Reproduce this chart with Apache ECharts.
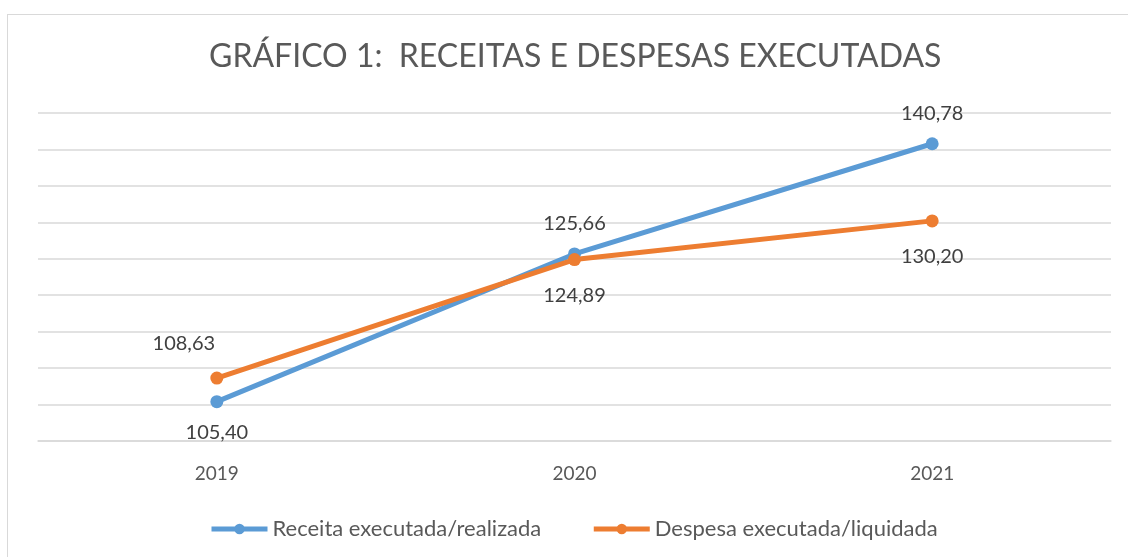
<!DOCTYPE html>
<html>
<head>
<meta charset="utf-8">
<script src="https://cdn.jsdelivr.net/npm/echarts@6/dist/echarts.min.js"></script>
<style>
html, body { margin: 0; padding: 0; background: #fff; overflow: hidden; }
#frame { position: absolute; left: 7px; top: 14px; width: 1200px; height: 600px; border: 1px solid #d9d9d9; }
#chart { position: absolute; left: 0; top: 0; width: 1128px; height: 557px; }
</style>
</head>
<body>
<div id="frame"></div>
<div id="chart"></div>
<script>
const years = ['2019', '2020', '2021']
const receita = [105.40, 125.66, 140.78]
const despesa = [108.63, 124.89, 130.20]

const font = 'Lato'
const fmt = p => p.value.toFixed(2).replace('.', ',')

const myChart = echarts.init(document.getElementById('chart'))
const option = {
  animation: false,
  title: {
    text: 'GRÁFICO 1:  RECEITAS E DESPESAS EXECUTADAS',
    left: 204,
    top: 36,
    textStyle: { color: '#595959', fontSize: 32, fontWeight: 'normal', fontFamily: font }
  },
  legend: {
    top: 513,
    left: 204,
    itemGap: 50,
    itemWidth: 56,
    itemHeight: 13,
    lineStyle: { width: 5 },
    textStyle: { color: '#595959', fontSize: 22, fontFamily: font },
    data: ['Receita executada/realizada', 'Despesa executada/liquidada']
  },
  grid: { left: 38, right: 17, top: 113, bottom: 116 },
  xAxis: {
    type: 'category',
    data: years,
    axisLine: { lineStyle: { color: '#d9d9d9', width: 1.5 } },
    axisTick: { show: false },
    axisLabel: { color: '#595959', fontSize: 19, fontFamily: font, margin: 23 }
  },
  yAxis: {
    type: 'value',
    min: 100,
    max: 145,
    interval: 5,
    axisLabel: { show: false },
    axisLine: { show: false },
    axisTick: { show: false },
    splitLine: { lineStyle: { color: '#d9d9d9', width: 1.5 } }
  },
  series: [
    {
      name: 'Receita executada/realizada',
      type: 'line',
      data: receita.map((v, i) => ({
        value: v,
        label: { position: i === 0 ? 'bottom' : 'top' }
      })),
      color: '#5b9bd5',
      lineStyle: { width: 5 },
      symbol: 'circle',
      symbolSize: 13,
      label: {
        show: true,
        formatter: fmt,
        color: '#404040',
        fontSize: 20,
        fontFamily: font,
        distance: 14
      }
    },
    {
      name: 'Despesa executada/liquidada',
      type: 'line',
      data: despesa.map((v, i) => ({
        value: v,
        label: i === 0 ? { position: 'top', offset: [-33, 1] } : { position: 'bottom' }
      })),
      color: '#ed7d31',
      lineStyle: { width: 5 },
      symbol: 'circle',
      symbolSize: 13,
      label: {
        show: true,
        formatter: fmt,
        color: '#404040',
        fontSize: 20,
        fontFamily: font,
        distance: 19
      }
    }
  ]
}
myChart.setOption(option)
</script>
</body>
</html>
